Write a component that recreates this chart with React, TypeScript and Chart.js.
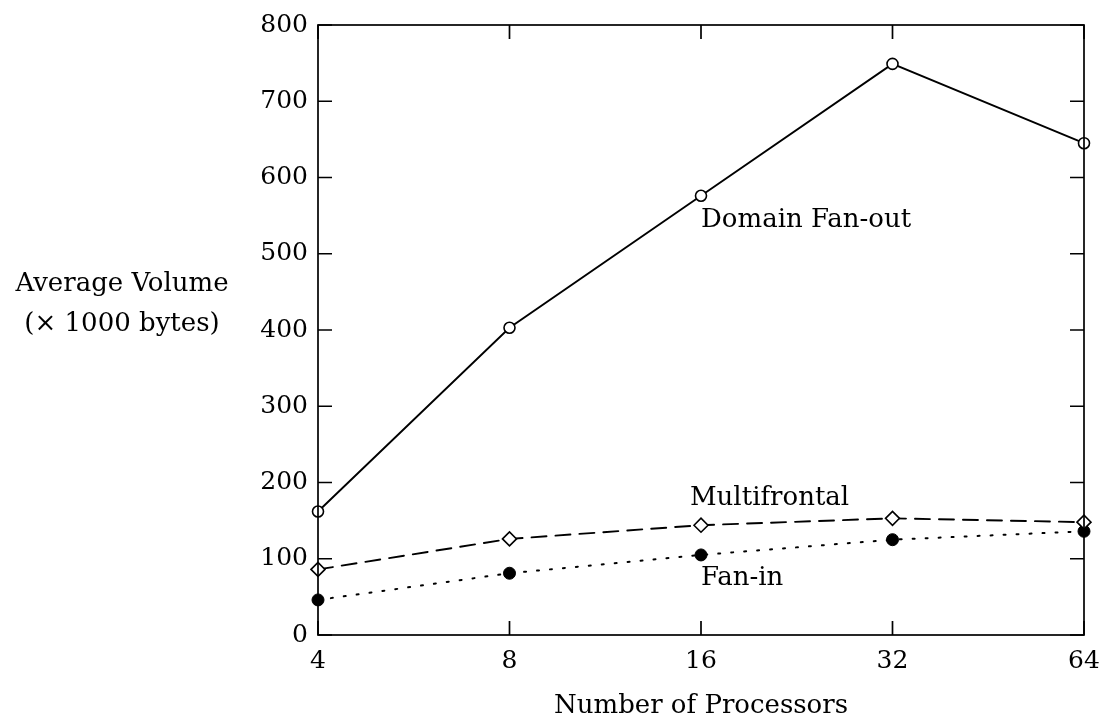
import React, { useEffect, useRef } from 'react';
import { Chart, registerables } from 'chart.js';

Chart.register(...registerables);

const processors = ['4', '8', '16', '32', '64'];
const domainFanOut = [162, 403, 576, 749, 645];
const multifrontal = [86, 126, 144, 153, 148];
const fanIn = [46, 81, 105, 125, 136];
const yTickValues = [0, 100, 200, 300, 400, 500, 600, 700, 800];
const seriesNames = ['Domain Fan-out', 'Multifrontal', 'Fan-in'];
const yTitleLines = ['Average Volume', '(\u00d7 1000 bytes)'];
const xTitle = 'Number of Processors';

const FONT = '"DejaVu Serif", "Liberation Serif", serif';

// in-plot series labels: anchored at a category index and a y value, with a small pixel nudge
const seriesLabelAnchors = [
  { idx: 2, y: 544, dx: 0 },
  { idx: 2, y: 180, dx: -11 },
  { idx: 2, y: 75, dx: 0 },
];

const framePlugin = {
  id: 'frame',
  afterDatasetsDraw(chart: any) {
    const { ctx, chartArea: a, scales } = chart;
    const xs = scales.x;
    const ys = scales.y;
    ctx.save();
    ctx.strokeStyle = '#000';
    ctx.lineWidth = 1.7;
    ctx.setLineDash([]);
    ctx.strokeRect(a.left, a.top, a.right - a.left, a.bottom - a.top);
    const L = 14;
    ctx.beginPath();
    xs.ticks.forEach((_t: any, i: number) => {
      const px = xs.getPixelForTick(i);
      ctx.moveTo(px, a.bottom);
      ctx.lineTo(px, a.bottom - L);
      ctx.moveTo(px, a.top);
      ctx.lineTo(px, a.top + L);
    });
    ys.ticks.forEach((_t: any, i: number) => {
      const py = ys.getPixelForTick(i);
      ctx.moveTo(a.left, py);
      ctx.lineTo(a.left + L, py);
      ctx.moveTo(a.right, py);
      ctx.lineTo(a.right - L, py);
    });
    ctx.stroke();

    ctx.fillStyle = '#000';
    ctx.font = `26px ${FONT}`;
    ctx.textBaseline = 'middle';
    ctx.textAlign = 'left';
    seriesLabelAnchors.forEach((p, i) => {
      ctx.fillText(seriesNames[i], xs.getPixelForValue(p.idx) + p.dx, ys.getPixelForValue(p.y));
    });

    ctx.textAlign = 'center';
    ctx.fillText(yTitleLines[0], 122, 284);
    ctx.fillText(yTitleLines[1], 122, 324);
    ctx.restore();
  },
};

export default function App() {
  const ref = useRef<HTMLCanvasElement | null>(null);

  useEffect(() => {
    document.body.style.margin = '0';
    const canvas = ref.current;
    if (!canvas) return;
    const chart = new Chart(canvas, {
      type: 'line',
      data: {
        labels: processors,
        datasets: [
          {
            label: seriesNames[0],
            data: domainFanOut,
            borderColor: '#000',
            borderWidth: 1.9,
            pointStyle: 'circle',
            pointRadius: 5.5,
            pointBorderWidth: 1.6,
            pointBackgroundColor: '#fff',
            pointBorderColor: '#000',
            tension: 0,
          },
          {
            label: seriesNames[1],
            data: multifrontal,
            borderColor: '#000',
            borderWidth: 1.9,
            borderDash: [15, 9],
            pointStyle: 'rectRot',
            pointRadius: 7,
            pointBorderWidth: 1.6,
            pointBackgroundColor: '#fff',
            pointBorderColor: '#000',
            tension: 0,
          },
          {
            label: seriesNames[2],
            data: fanIn,
            borderColor: '#000',
            borderWidth: 2,
            borderDash: [2, 11],
            pointStyle: 'circle',
            pointRadius: 6,
            pointBorderWidth: 1,
            pointBackgroundColor: '#000',
            pointBorderColor: '#000',
            tension: 0,
          },
        ],
      },
      options: {
        responsive: false,
        animation: false,
        layout: { padding: { top: 25, right: 17, bottom: 0, left: 0 } },
        plugins: {
          legend: { display: false },
          tooltip: { enabled: false },
          title: { display: false },
        },
        elements: { line: { borderCapStyle: 'round' } },
        datasets: { line: { clip: false } as any },
        scales: {
          x: {
            type: 'category',
            offset: false,
            grid: { display: false, drawTicks: false },
            border: { display: false },
            ticks: {
              color: '#000',
              font: { family: FONT, size: 25 },
              padding: 11,
              maxRotation: 0,
              autoSkip: false,
            },
            title: {
              display: true,
              text: xTitle,
              color: '#000',
              font: { family: FONT, size: 26 },
              padding: { top: 0, bottom: 1 },
            },
            afterFit(scale: any) {
              scale.height = 88;
              scale.paddingLeft = 0;
              scale.paddingRight = 0;
            },
          },
          y: {
            type: 'linear',
            min: 0,
            max: 800,
            grid: { display: false, drawTicks: false },
            border: { display: false },
            afterBuildTicks(scale: any) {
              scale.ticks = yTickValues.map((v) => ({ value: v }));
            },
            ticks: {
              color: '#000',
              font: { family: FONT, size: 25 },
              padding: 10,
            },
            afterFit(scale: any) {
              scale.width = 318;
              scale.paddingTop = 0;
              scale.paddingBottom = 0;
            },
          },
        },
      },
      plugins: [framePlugin],
    } as any);
    return () => chart.destroy();
  }, []);

  return <canvas ref={ref} width={1101} height={723} style={{ display: 'block' }} />;
}
